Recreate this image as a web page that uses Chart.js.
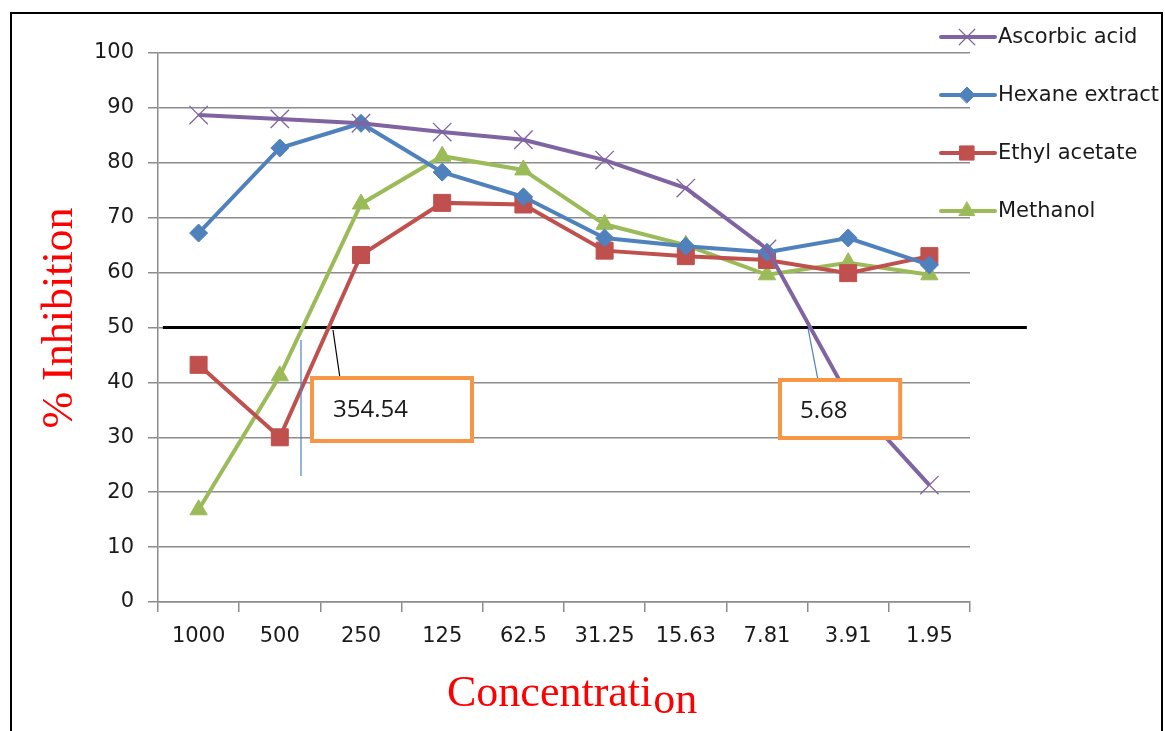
<!DOCTYPE html>
<html>
<head>
<meta charset="utf-8">
<script src="https://cdn.jsdelivr.net/npm/chart.js@4.4.1/dist/chart.umd.min.js"></script>
<style>
  html, body { margin: 0; padding: 0; background: #fff; }
  #wrap { width: 1165px; height: 731px; position: relative; }
</style>
</head>
<body>
<div id="wrap"><canvas id="chart"></canvas></div>
<script>
// Concentrations (categories)
const concentrations = ["1000", "500", "250", "125", "62.5", "31.25", "15.63", "7.81", "3.91", "1.95"];

// % inhibition per series
const ascorbicAcid = [88.7, 88.0, 87.2, 85.6, 84.2, 80.5, 75.4, 64.3, 37.5, 21.3];
const hexaneExtract = [67.2, 82.7, 87.2, 78.3, 73.8, 66.3, 64.8, 63.7, 66.3, 61.4];
const ethylAcetate = [43.2, 30.0, 63.2, 72.7, 72.4, 64.0, 63.0, 62.3, 59.9, 63.0];
const methanol = [16.8, 41.2, 72.5, 81.2, 78.7, 68.8, 65.0, 59.6, 61.8, 59.6];

const seriesNames = ["Ascorbic acid", "Hexane extract", "Ethyl acetate", "Methanol"];
const yTicks = [0, 10, 20, 30, 40, 50, 60, 70, 80, 90, 100];

// IC50 reference level and the two labelled values
const ic50Level = 50;
const ic50Labels = ["354.54", "5.68"];

const colors = ["#8064A2", "#4F81BD", "#C0504D", "#9BBB59"];
const pointStyles = ["crossRot", "rectRot", "rect", "triangle"];
const pointSizes = [13, 9, 12, 10];
const legendSizes = [11, 8, 10, 9];

function makeDataset(i, values) {
  return {
    label: seriesNames[i],
    data: values,
    borderColor: colors[i],
    backgroundColor: colors[i],
    borderWidth: 4,
    pointStyle: pointStyles[i],
    pointRadius: pointSizes[i],
    pointBorderWidth: i === 0 ? 1.3 : 1,
    pointBorderColor: colors[i],
    pointBackgroundColor: colors[i],
    tension: 0,
  };
}

// annotations, all in data space (category index, % inhibition)
const decorations = {
  refLine: { from: -0.44, to: 10.2 },
  boxes: [
    { x1: 1.397, x2: 3.367, y1: 40.8, y2: 29.33, tx: 1.655, ty: 33.7, text: ic50Labels[0] },
    { x1: 7.16, x2: 8.64, y1: 40.44, y2: 29.87, tx: 7.406, ty: 33.5, text: ic50Labels[1] },
  ],
  leaders: [
    { x1: 1.261, y1: 47.72, x2: 1.261, y2: 22.95, color: "#4F81BD" },
    { x1: 1.655, y1: 49.54, x2: 1.741, y2: 40.8, color: "#000000" },
    { x1: 7.505, y1: 49.9, x2: 7.64, y2: 39.5, color: "#4F81BD" },
  ],
};

const refLinePlugin = {
  id: 'refLine',
  beforeDatasetsDraw(chart) {
    const ctx = chart.ctx, xs = chart.scales.x, ys = chart.scales.y;
    const y = ys.getPixelForValue(ic50Level);
    ctx.save();
    ctx.strokeStyle = '#000';
    ctx.lineWidth = 3;
    ctx.beginPath();
    ctx.moveTo(xs.getPixelForValue(decorations.refLine.from), y);
    ctx.lineTo(xs.getPixelForValue(decorations.refLine.to), y);
    ctx.stroke();
    ctx.restore();
  },
  afterDatasetsDraw(chart) {
    const ctx = chart.ctx, xs = chart.scales.x, ys = chart.scales.y;
    ctx.save();
    decorations.leaders.forEach(l => {
      ctx.strokeStyle = l.color;
      ctx.lineWidth = 1.2;
      ctx.beginPath();
      ctx.moveTo(xs.getPixelForValue(l.x1), ys.getPixelForValue(l.y1));
      ctx.lineTo(xs.getPixelForValue(l.x2), ys.getPixelForValue(l.y2));
      ctx.stroke();
    });
    decorations.boxes.forEach(b => {
      const left = xs.getPixelForValue(b.x1), right = xs.getPixelForValue(b.x2);
      const top = ys.getPixelForValue(b.y1), bottom = ys.getPixelForValue(b.y2);
      ctx.fillStyle = '#fff';
      ctx.fillRect(left, top, right - left, bottom - top);
      ctx.strokeStyle = '#F79646';
      ctx.lineWidth = 4;
      ctx.strokeRect(left, top, right - left, bottom - top);
      ctx.fillStyle = '#1a1a1a';
      ctx.font = '24px "Open Sans"';
      ctx.textAlign = 'left';
      ctx.textBaseline = 'alphabetic';
      ctx.fillText(b.text, xs.getPixelForValue(b.tx), ys.getPixelForValue(b.ty));
    });
    ctx.restore();
  },
};

// legend, axis titles and frame drawn by hand
const extrasPlugin = {
  id: 'extras',
  afterDraw(chart) {
    const ctx = chart.ctx;
    ctx.save();

    // frame
    ctx.strokeStyle = '#000';
    ctx.lineWidth = 2;
    ctx.beginPath();
    ctx.moveTo(11, 740);
    ctx.lineTo(11, 13);
    ctx.lineTo(1162, 13);
    ctx.lineTo(1162, 740);
    ctx.stroke();

    // legend
    seriesNames.forEach((name, i) => {
      const y = 37 + i * 58;
      ctx.strokeStyle = colors[i];
      ctx.lineWidth = 4;
      ctx.lineCap = 'round';
      ctx.beginPath();
      ctx.moveTo(941, y);
      ctx.lineTo(995, y);
      ctx.stroke();
      ctx.fillStyle = colors[i];
      ctx.lineWidth = i === 0 ? 1.2 : 1;
      Chart.helpers.drawPoint(ctx, { pointStyle: pointStyles[i], radius: legendSizes[i], borderWidth: 1 }, 967, y);
      ctx.fillStyle = '#1a1a1a';
      ctx.font = '21px "DejaVu Sans"';
      ctx.textAlign = 'left';
      ctx.textBaseline = 'middle';
      ctx.fillText(name, 998, y + 1);
    });

    // y title
    ctx.fillStyle = '#ff0000';
    ctx.font = '44px "Liberation Serif"';
    ctx.translate(72, 318);
    ctx.rotate(-Math.PI / 2);
    ctx.textAlign = 'center';
    ctx.textBaseline = 'alphabetic';
    ctx.fillText('% Inhibition', 0, 0);
    ctx.setTransform(1, 0, 0, 1, 0, 0);
    ctx.scale(chart.currentDevicePixelRatio, chart.currentDevicePixelRatio);

    // x title, with the dropped "on" as in the original
    ctx.textAlign = 'left';
    ctx.fillText('Concentrati', 447, 706);
    const w = ctx.measureText('Concentrati').width;
    ctx.fillText('on', 447 + w + 1, 713);

    ctx.restore();
  },
};

const chartOptions = {
  responsive: true,
  maintainAspectRatio: false,
  animation: false,
  layout: { padding: { left: 0, right: 195, top: 53, bottom: 0 } },
  plugins: {
    legend: { display: false },
    tooltip: { enabled: false },
  },
  scales: {
    x: {
      type: 'category',
      offset: true,
      afterFit(scale) { scale.height = 129; },
      grid: {
        offset: true,
        drawOnChartArea: false,
        drawTicks: true,
        tickLength: 10,
        color: '#8c8c8c',
        lineWidth: 1.5,
      },
      border: { color: '#8c8c8c', width: 1.5 },
      ticks: {
        color: '#1a1a1a',
        padding: 12,
        maxRotation: 0,
        font: { family: 'DejaVu Sans', size: 21 },
      },
    },
    y: {
      min: 0,
      max: 100,
      afterFit(scale) { scale.width = 158; },
      afterBuildTicks(scale) { scale.ticks = yTicks.map(v => ({ value: v })); },
      grid: {
        color: '#8c8c8c',
        lineWidth: 1.5,
        tickLength: 10,
      },
      border: { color: '#8c8c8c', width: 1.5 },
      ticks: {
        color: '#1a1a1a',
        padding: 14,
        font: { family: 'DejaVu Sans', size: 21 },
      },
    },
  },
};

const chartData = {
  labels: concentrations,
  datasets: [
    makeDataset(0, ascorbicAcid),
    makeDataset(1, hexaneExtract),
    makeDataset(2, ethylAcetate),
    makeDataset(3, methanol),
  ],
};

const ctx = document.getElementById('chart').getContext('2d');
new Chart(ctx, {
  type: 'line',
  data: chartData,
  options: chartOptions,
  plugins: [refLinePlugin, extrasPlugin],
});
</script>
</body>
</html>
